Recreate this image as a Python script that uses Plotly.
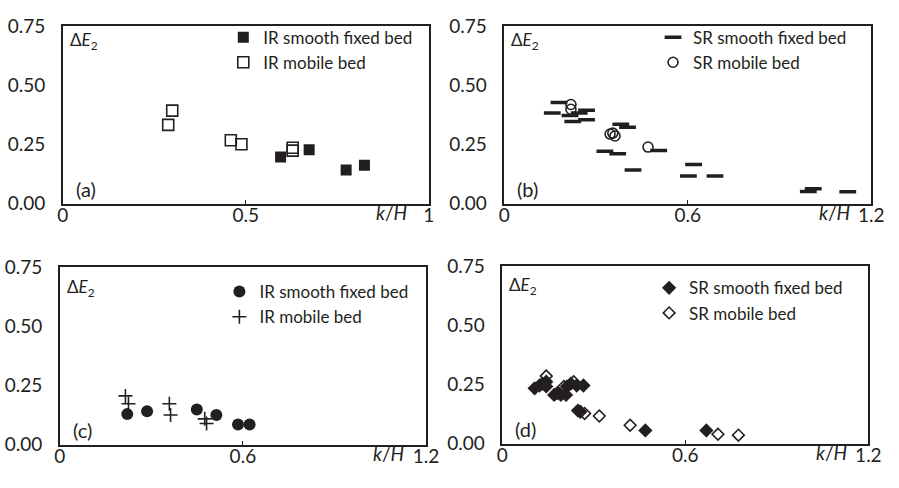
import plotly.graph_objects as go

# ---------------- data ----------------
# (a) IR, 0 <= k/H <= 1
a_fixed_x = [0.595, 0.673, 0.774, 0.824]
a_fixed_y = [0.197, 0.228, 0.142, 0.162]
a_mobile_x = [0.288, 0.299, 0.459, 0.488, 0.628, 0.628]
a_mobile_y = [0.333, 0.393, 0.268, 0.251, 0.236, 0.224]

# (b) SR
b_fixed_x = [0.157, 0.179, 0.215, 0.224, 0.245, 0.269, 0.269, 0.329, 0.371,
             0.381, 0.403, 0.421, 0.505, 0.602, 0.619, 0.689, 0.994, 1.010, 1.123]
b_fixed_y = [0.383, 0.427, 0.373, 0.347, 0.383, 0.395, 0.355, 0.221, 0.211,
             0.335, 0.323, 0.142, 0.224, 0.117, 0.165, 0.117, 0.051, 0.063, 0.050]
b_mobile_x = [0.218, 0.218, 0.346, 0.355, 0.362, 0.470]
b_mobile_y = [0.419, 0.399, 0.294, 0.298, 0.286, 0.239]

# (c) IR
c_fixed_x = [0.221, 0.286, 0.449, 0.513, 0.584, 0.622]
c_fixed_y = [0.129, 0.141, 0.149, 0.125, 0.085, 0.085]
c_mobile_x = [0.215, 0.225, 0.359, 0.363, 0.475, 0.481]
c_mobile_y = [0.206, 0.173, 0.173, 0.125, 0.109, 0.089]

# (d) SR
d_fixed_x = [0.106, 0.122, 0.132, 0.144, 0.144, 0.170, 0.180, 0.192, 0.209,
             0.212, 0.225, 0.244, 0.266, 0.248, 0.256, 0.469, 0.669]
d_fixed_y = [0.234, 0.246, 0.254, 0.242, 0.262, 0.206, 0.214, 0.206, 0.206,
             0.242, 0.254, 0.246, 0.246, 0.140, 0.135, 0.056, 0.056]
d_mobile_x = [0.144, 0.202, 0.234, 0.270, 0.318, 0.419, 0.707, 0.774]
d_mobile_y = [0.286, 0.242, 0.262, 0.128, 0.117, 0.078, 0.040, 0.036]

legend_names = [
    ["IR smooth fixed bed", "IR mobile bed"],
    ["SR smooth fixed bed", "SR mobile bed"],
    ["IR smooth fixed bed", "IR mobile bed"],
    ["SR smooth fixed bed", "SR mobile bed"],
]
panel_labels = ["(a)", "(b)", "(c)", "(d)"]
x_ranges = [[0, 1], [0, 1.2], [0, 1.2], [0, 1.2]]
x_tickvals = [[0, 0.5, 1], [0, 0.6, 1.2], [0, 0.6, 1.2], [0, 0.6, 1.2]]
x_ticktext = [["0", "0.5", "1"], ["0", "0.6", "1.2"], ["0", "0.6", "1.2"], ["0", "0.6", "1.2"]]
y_tickvals = [0, 0.25, 0.5, 0.75]
y_ticktext = ["0.00", "0.25", "0.50", "0.75"]

# ---------------- styling ----------------
W, H = 899, 488
INK = "#231f20"
FONT = "Lato"

# plot boxes in pixels: (left, right, top, bottom)
boxes = [(58, 432, 15, 201), (509, 884, 15, 201), (55, 429, 268, 454), (507, 881, 267, 453)]
# legend text start (px from box right) and legend top offset (px from box top)
legend_text_dx = [170, 183, 171, 184]
legend_top_dy = [-7, -7, 7, 4]
# Delta E_2 label vertical offset (px from box top)
de_dy = [15, 15, 22, 21]

fig = go.Figure()

series = [
    (a_fixed_x, a_fixed_y, dict(symbol="square", size=11, color=INK, line=dict(width=0))),
    (a_mobile_x, a_mobile_y, dict(symbol="square-open", size=11, color=INK, line=dict(width=1.6))),
    (b_fixed_x, b_fixed_y, dict(symbol="line-ew", size=12, color=INK, line=dict(width=3.5, color=INK))),
    (b_mobile_x, b_mobile_y, dict(symbol="circle-open", size=10, color=INK, line=dict(width=1.6))),
    (c_fixed_x, c_fixed_y, dict(symbol="circle", size=12, color=INK, line=dict(width=0))),
    (c_mobile_x, c_mobile_y, dict(symbol="cross-thin", size=10, color=INK, line=dict(width=1.6, color=INK))),
    (d_fixed_x, d_fixed_y, dict(symbol="diamond", size=11, color=INK, line=dict(width=0))),
    (d_mobile_x, d_mobile_y, dict(symbol="diamond-open", size=9, color=INK, line=dict(width=1.6))),
]

for i, (xs, ys, mk) in enumerate(series):
    p = i // 2
    axs = "" if p == 0 else str(p + 1)
    leg = "legend" if p == 0 else "legend" + str(p + 1)
    fig.add_trace(go.Scatter(
        x=xs, y=ys, mode="markers", marker=mk,
        name=legend_names[p][i % 2],
        xaxis="x" + axs, yaxis="y" + axs, legend=leg, showlegend=True,
    ))

layout = dict(
    width=W, height=H,
    margin=dict(l=0, r=0, t=0, b=0),
    paper_bgcolor="white", plot_bgcolor="white",
    font=dict(family=FONT, color=INK, size=16),
)

annotations = []
for p, (l, r, t, b) in enumerate(boxes):
    axs = "" if p == 0 else str(p + 1)
    xd = [l / W, r / W]
    yd = [1 - b / H, 1 - t / H]
    layout["xaxis" + axs] = dict(
        domain=xd, range=x_ranges[p], anchor="y" + axs,
        tickvals=x_tickvals[p], ticktext=x_ticktext[p],
        ticks="inside", ticklen=4, tickwidth=1, tickcolor=INK,
        showline=True, linecolor=INK, linewidth=1.5, mirror=True,
        showgrid=False, zeroline=False,
        tickfont=dict(size=19, family=FONT, color=INK),
        ticklabelstandoff=-6,
    )
    layout["yaxis" + axs] = dict(
        domain=yd, range=[0, 0.75], anchor="x" + axs,
        tickvals=y_tickvals, ticktext=y_ticktext,
        ticks="", showline=True, linecolor=INK, linewidth=1.5, mirror=True,
        showgrid=False, zeroline=False,
        tickfont=dict(size=19, family=FONT, color=INK),
        ticklabelstandoff=12,
    )
    leg = "legend" if p == 0 else "legend" + str(p + 1)
    layout[leg] = dict(
        x=(r - legend_text_dx[p] - 40) / W, y=1 - (t + legend_top_dy[p]) / H,
        xanchor="left", yanchor="top",
        bgcolor="rgba(0,0,0,0)", borderwidth=0,
        font=dict(size=17, family=FONT, color=INK),
        itemwidth=30, tracegroupgap=0,
    )
    # Delta E_2 label
    annotations.append(dict(
        text="Δ<i>E</i><sub>2</sub>", xref="paper", yref="paper",
        x=(l + 5) / W, y=1 - (t + de_dy[p]) / H, xanchor="left", yanchor="middle",
        showarrow=False, font=dict(size=17, family=FONT, color=INK),
    ))
    # panel label
    annotations.append(dict(
        text=panel_labels[p], xref="paper", yref="paper",
        x=(l + 11) / W, y=1 - (b - 15) / H, xanchor="left", yanchor="middle",
        showarrow=False, font=dict(size=20, family=FONT, color=INK),
    ))
    # k/H axis title
    annotations.append(dict(
        text="<i>k</i>/<i>H</i>", xref="paper", yref="paper",
        x=(r - 38) / W, y=1 - (b + 9) / H, xanchor="center", yanchor="middle",
        showarrow=False, font=dict(size=19, family=FONT, color=INK),
    ))

layout["annotations"] = annotations
fig.update_layout(**layout)
fig.write_html("out.html")
